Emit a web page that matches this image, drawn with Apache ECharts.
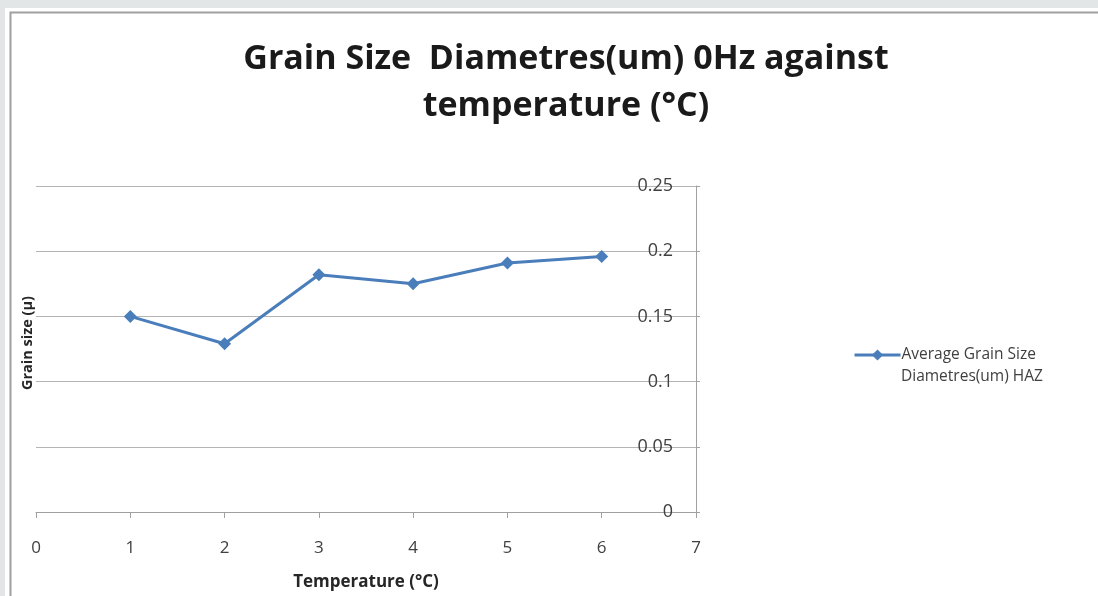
<!DOCTYPE html>
<html><head><meta charset="utf-8">
<script src="https://cdn.jsdelivr.net/npm/echarts@6/dist/echarts.min.js"></script>
<style>html,body{margin:0;padding:0;background:#e2e6e7;}#c{width:1098px;height:596px;}</style>
</head><body><div id="c"></div>
<script>
const temperatures = [1, 2, 3, 4, 5, 6];
const grainSize = [0.15, 0.129, 0.182, 0.175, 0.191, 0.196];
const xTicks = [0, 1, 2, 3, 4, 5, 6, 7];
const yTicks = [0, 0.05, 0.1, 0.15, 0.2, 0.25];
const legendLines = ['Average Grain Size', 'Diametres(um) HAZ'];
const seriesName = legendLines.join(' ');

const chart = echarts.init(document.getElementById('c'));
const FONT = 'Open Sans';
chart.setOption({
  backgroundColor: '#e2e6e7',
  animation: false,
  graphic: [
    {type: 'rect', shape: {x: 5, y: 8, width: 1200, height: 700}, style: {fill: '#ffffff'}, z: -10},
    {type: 'rect', shape: {x: 10.5, y: 12.5, width: 1200, height: 700}, style: {fill: '#ffffff', stroke: '#a0a0a0', lineWidth: 2}, z: -9},
    {type: 'text', left: 20, top: 296, rotation: Math.PI / 2,
      style: {text: 'Grain size (µ)', fontFamily: FONT, fontWeight: 'bold', fontSize: 14.5, fill: '#262626'}},
    {type: 'text', left: 901, top: 369,
      style: {text: legendLines[1], fontFamily: FONT, fontSize: 15.5, fill: '#404040'}}
  ],
  title: {
    text: 'Grain Size  Diametres(um) 0Hz against\ntemperature (°C)',
    left: 561, top: 31, textAlign: 'center',
    textStyle: {fontFamily: FONT, fontWeight: 'bold', fontSize: 34, lineHeight: 47, color: '#1a1a1a'}
  },
  legend: {
    left: 848, top: 342, orient: 'vertical',
    itemWidth: 46, itemHeight: 14, itemGap: 4,
    data: [seriesName],
    lineStyle: {width: 3},
    formatter: function(){ return legendLines[0]; },
    textStyle: {fontFamily: FONT, fontSize: 15.5, color: '#404040', padding: [0,0,0,-4]}
  },
  grid: {left: 36, right: 402, top: 186, bottom: 84},
  xAxis: {
    type: 'value', min: xTicks[0], max: xTicks[xTicks.length - 1], interval: 1,
    name: 'Temperature (°C)', nameLocation: 'middle', nameGap: 62,
    nameTextStyle: {fontFamily: FONT, fontWeight: 'bold', fontSize: 17, color: '#262626'},
    axisLine: {onZero: false, lineStyle: {color: '#a0a0a0', width: 1}},
    axisTick: {show: true, length: 6, lineStyle: {color: '#a0a0a0'}},
    axisLabel: {margin: 28, fontFamily: FONT, fontSize: 17, color: '#404040'},
    splitLine: {show: false}
  },
  yAxis: {
    type: 'value', position: 'right', min: yTicks[0], max: yTicks[yTicks.length - 1], interval: 0.05,
    axisLine: {show: true, onZero: false, lineStyle: {color: '#a0a0a0', width: 1}},
    axisTick: {show: true, length: 4, lineStyle: {color: '#a0a0a0'}},
    axisLabel: {inside: true, margin: 23, fontFamily: FONT, fontSize: 18, color: '#404040'},
    splitLine: {show: true, lineStyle: {color: '#b4b4b4', width: 1}}
  },
  series: [{
    name: seriesName, type: 'line',
    data: temperatures.map((t, i) => [t, grainSize[i]]),
    symbol: 'diamond', symbolSize: 13,
    lineStyle: {color: '#4a7ebb', width: 3},
    itemStyle: {color: '#4a7ebb'}
  }]
});
</script></body></html>
